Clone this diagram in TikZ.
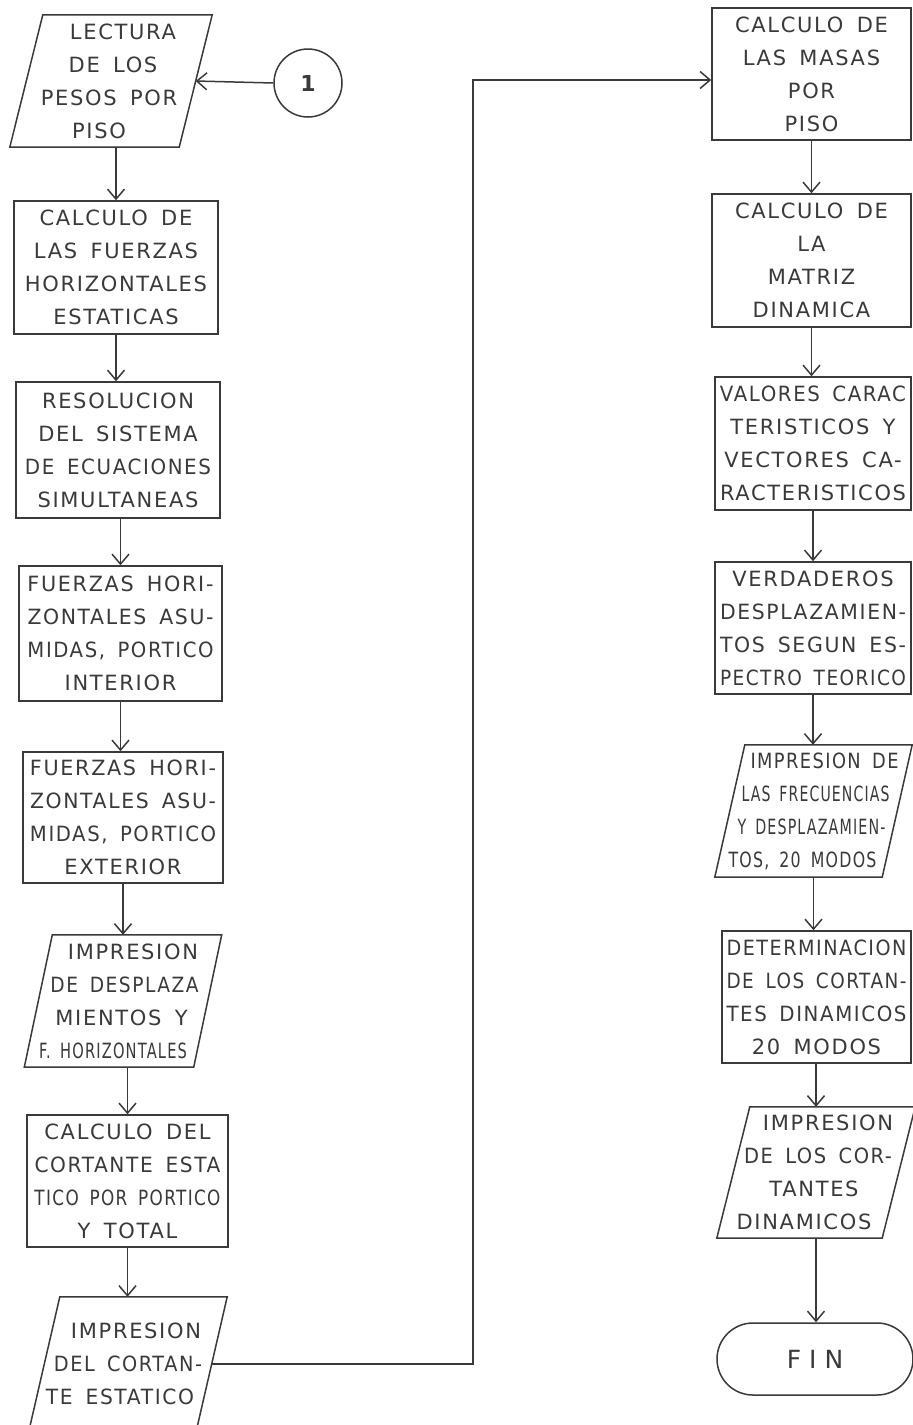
\documentclass[tikz,border=0pt]{standalone}
\usepackage{fontspec}
\setmainfont{DejaVu Sans}[LetterSpace=8,WordSpace=1.6]
\usetikzlibrary{arrows.meta,shapes.misc}
\definecolor{ink}{HTML}{3A3A3A}
\definecolor{paper}{HTML}{FFFFFF}
\newlength\fwlen
\newcommand{\fitto}[2]{\settowidth{\fwlen}{#2}\ifdim\fwlen>#1\relax\resizebox{#1}{\height}{#2}\else #2\fi}
\newcommand{\Lf}[1]{\fitto{\fitmax}{#1}}
\newcommand{\Ls}[2]{\hspace*{#1}\Lf{#2}\hspace*{-#1}}
\def\fitmax{186pt}
\tikzset{
  ln/.style={draw=ink, line width=1.5pt},
  arr/.style={ln, -{Straight Barb[length=10pt,width=17pt,line width=1.5pt]}},
  txt/.style={text=ink, align=center, font=\fontsize{21}{33}\selectfont, inner sep=0pt},
  procbox/.style={txt, ln, execute at begin node={\def\fitmax{186pt}}},
  iobox/.style={txt, execute at begin node={\def\fitmax{148pt}}},
}
\newcommand{\paral}[2]{\draw[ln] ([xshift=-#2/2]#1.south west) -- ([xshift=#2/2]#1.north west) -- ([xshift=#2/2]#1.north east) -- ([xshift=-#2/2]#1.south east) -- cycle;}
\begin{document}
\begin{tikzpicture}[x=1pt,y=-1pt]
\useasboundingbox[fill=paper] (0,0) rectangle (913,1425);
\clip (0,0) rectangle (913,1425);
% left column
\node[iobox, minimum width=169pt, minimum height=132pt] (L1) at (111,81) {\Ls{12pt}{LECTURA}\\\Ls{4pt}{DE LOS}\\\Ls{-4pt}{PESOS POR}\\\Ls{-12pt}{PISO}};
\paral{L1}{33}
\node[draw=ink, line width=1.5pt, circle, minimum size=68pt, inner sep=0pt, text=ink, font=\fontsize{22}{26}\selectfont\bfseries] (c1) at (308,83) {1};
\node[procbox, minimum width=204pt, minimum height=133pt] (L2) at (116,267.5) {\Lf{CALCULO DE}\\\Lf{LAS FUERZAS}\\\Lf{HORIZONTALES}\\\Lf{ESTATICAS}};
\node[procbox, minimum width=204pt, minimum height=136pt] (L3) at (118,450) {\Lf{RESOLUCION}\\\Lf{DEL SISTEMA}\\\Lf{DE ECUACIONES}\\\Lf{SIMULTANEAS}};
\node[procbox, minimum width=203pt, minimum height=135pt] (L4) at (120.5,633.5) {\Lf{FUERZAS HORI-}\\\Lf{ZONTALES ASU-}\\\Lf{MIDAS, PORTICO}\\\Lf{INTERIOR}};
\node[procbox, minimum width=200pt, minimum height=131pt] (L5) at (123,817.5) {\Lf{FUERZAS HORI-}\\\Lf{ZONTALES ASU-}\\\Lf{MIDAS, PORTICO}\\\Lf{EXTERIOR}};
\node[iobox, minimum width=169pt, minimum height=132pt] (L6) at (123,1001) {\Ls{10pt}{IMPRESION}\\\Ls{3pt}{DE DESPLAZA}\\\Ls{-3pt}{MIENTOS Y}\\\Ls{-10pt}{F. HORIZONTALES}};
\paral{L6}{28}
\node[procbox, minimum width=201pt, minimum height=132pt] (L7) at (127.5,1181) {\Lf{CALCULO DEL}\\\Lf{CORTANTE ESTA}\\\Lf{TICO POR PORTICO}\\\Lf{Y TOTAL}};
\node[iobox, minimum width=167pt, minimum height=134pt] (L8) at (128,1364) {\Ls{8pt}{IMPRESION}\\\Lf{DEL CORTAN-}\\\Ls{-8pt}{TE ESTATICO}};
\paral{L8}{31}
% right column
\node[procbox, minimum width=199pt, minimum height=132pt] (R1) at (811.5,74) {\Lf{CALCULO DE}\\\Lf{LAS MASAS}\\\Lf{POR}\\\Lf{PISO}};
\node[procbox, minimum width=199pt, minimum height=133pt] (R2) at (811.5,260.5) {\Lf{CALCULO DE}\\\Lf{LA}\\\Lf{MATRIZ}\\\Lf{DINAMICA}};
\node[procbox, minimum width=196pt, minimum height=133pt] (R3) at (813,443.5) {\Lf{VALORES CARAC}\\\Lf{TERISTICOS Y}\\\Lf{VECTORES CA-}\\\Lf{RACTERISTICOS}};
\node[procbox, minimum width=196pt, minimum height=132pt] (R4) at (813,628) {\Lf{VERDADEROS}\\\Lf{DESPLAZAMIEN-}\\\Lf{TOS SEGUN ES-}\\\Lf{PECTRO TEORICO}};
\node[iobox, minimum width=167pt, minimum height=132pt] (R5) at (813.5,811) {\Ls{11pt}{IMPRESION DE}\\\Ls{4pt}{LAS FRECUENCIAS}\\\Ls{-4pt}{Y DESPLAZAMIEN-}\\\Ls{-11pt}{TOS, 20 MODOS}};
\paral{R5}{30}
\node[procbox, minimum width=189pt, minimum height=132pt, execute at begin node={\def\fitmax{180pt}}] (R6) at (816.5,997) {\Lf{DETERMINACION}\\\Lf{DE LOS CORTAN-}\\\Lf{TES DINAMICOS}\\\Lf{20 MODOS}};
\node[iobox, minimum width=165pt, minimum height=131pt] (R7) at (816,1172.5) {\Ls{12pt}{IMPRESION}\\\Ls{4pt}{DE LOS COR-}\\\Ls{-4pt}{TANTES}\\\Ls{-12pt}{DINAMICOS}};
\paral{R7}{33}
\node[ln, rounded rectangle, minimum width=196pt, minimum height=72pt, inner sep=0pt, text=ink, font=\fontsize{25}{28}\selectfont] (fin) at (815,1359) {F\hspace{8pt}I\hspace{8pt}N};
% connectors
\coordinate (j) at (473,80);
\draw[arr] (c1.west) -- (L1.east);
\draw[arr] (L2.north |- L1.south) -- (L2.north);
\draw[arr] (L2.south) -- (L2.south |- L3.north);
\draw[arr] (L4.north |- L3.south) -- (L4.north);
\draw[arr] (L4.south) -- (L4.south |- L5.north);
\draw[arr] (L5.south) -- (L5.south |- L6.north);
\draw[arr] (L7.north |- L6.south) -- (L7.north);
\draw[arr] (L7.south) -- (L7.south |- L8.north);
\draw[arr] (L8.east) -| (j) -- (j -| R1.west);
\draw[arr] (R1.south) -- (R1.south |- R2.north);
\draw[arr] (R2.south) -- (R2.south |- R3.north);
\draw[arr] (R3.south) -- (R3.south |- R4.north);
\draw[arr] (R4.south) -- (R4.south |- R5.north);
\draw[arr] (R5.south) -- (R5.south |- R6.north);
\draw[arr] (R7.north |- R6.south) -- (R7.north);
\draw[arr] (R7.south) -- (R7.south |- fin.north);
\end{tikzpicture}
\end{document}
